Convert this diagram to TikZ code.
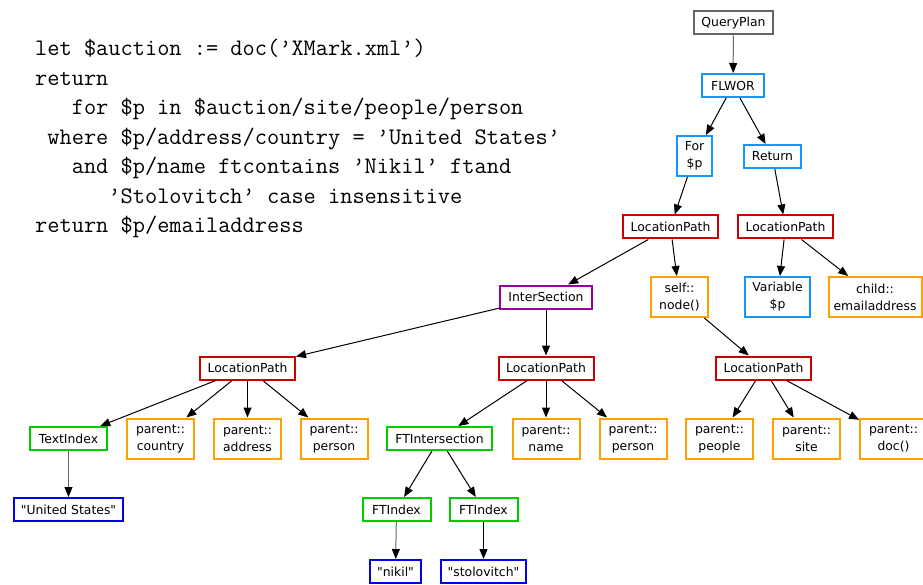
\documentclass[tikz,border=0pt]{standalone}
\usepackage{fontspec}
\newfontfamily\dvs{DejaVu Sans}
\usetikzlibrary{arrows.meta}
\definecolor{cgray}{RGB}{100,100,100}
\definecolor{csky}{RGB}{20,150,255}
\definecolor{cred}{RGB}{204,0,0}
\definecolor{cpurple}{RGB}{153,0,153}
\definecolor{corange}{RGB}{255,160,0}
\definecolor{cgreen}{RGB}{0,204,0}
\definecolor{cblue}{RGB}{0,0,238}
\begin{document}
\begin{tikzpicture}[x=1pt,y=-1pt,
  bx/.style={draw, line width=2pt, inner sep=0pt, align=center,
    font=\dvs\fontsize{12.4}{17}\selectfont, minimum height=23pt, fill=white},
  two/.style={minimum height=40pt},
  codeline/.style={anchor=base west, inner sep=0pt,
    font=\ttfamily\fontsize{23.7}{29.5}\selectfont},
  edge/.style={line width=1pt, -{Triangle[length=10pt,width=8pt,color=black]}},
  gedge/.style={edge, draw=black!60}
]
\useasboundingbox (0,0) rectangle (923,585);

% code
\node[codeline] (c1) at (35,56) {let \$auction := doc(’XMark.xml’)};
\node[codeline] (c2) at (35,85.5) {return};
\node[codeline] (c3) at (35,115) {\hphantom{xxx}for \$p in \$auction/site/people/person};
\node[codeline] (c4) at (35,144.5) {\hphantom{x}where \$p/address/country = ’United States’};
\node[codeline] (c5) at (35,174) {\hphantom{xxx}and \$p/name ftcontains ’Nikil’ ftand};
\node[codeline] (c6) at (35,203.5) {\hphantom{xxxxxx}’Stolovitch’ case insensitive};
\node[codeline] (c7) at (35,233) {return \$p/emailaddress};

% tree
\node[bx, draw=cgray, minimum width=79pt] (qp) at (733.5,23) {QueryPlan};
\node[bx, draw=csky, minimum width=62pt] (fl) at (733,85.5) {FLWOR};
\node[bx, two, draw=csky, minimum width=35pt] (for) at (694.5,156) {For\\\$p};
\node[bx, draw=csky, minimum width=57pt] (ret) at (772.5,156.5) {Return};
\node[bx, draw=cred, minimum width=95pt] (lpa) at (670.5,227) {LocationPath};
\node[bx, draw=cred, minimum width=95pt] (lpb) at (785.5,227) {LocationPath};
\node[bx, draw=cpurple, minimum width=92pt] (is) at (546,297) {InterSection};
\node[bx, two, draw=corange, minimum width=57pt] (self) at (679.5,297) {self::\\node()};
\node[bx, two, draw=csky, minimum width=65pt] (var) at (777.5,297) {Variable\\\$p};
\node[bx, two, draw=corange, minimum width=93pt] (child) at (875,297) {child::\\emailaddress};
\node[bx, draw=cred, minimum width=95pt] (lpc) at (247.5,368) {LocationPath};
\node[bx, draw=cred, minimum width=95pt] (lpd) at (546,368) {LocationPath};
\node[bx, draw=cred, minimum width=95pt] (lpe) at (763.5,368) {LocationPath};
\node[bx, draw=cgreen, minimum width=77pt] (ti) at (68.5,438.5) {TextIndex};
\node[bx, two, draw=corange, minimum width=67pt] (pco) at (160.5,438.5) {parent::\\country};
\node[bx, two, draw=corange, minimum width=67pt] (pad) at (247.5,438.5) {parent::\\address};
\node[bx, two, draw=corange, minimum width=67pt] (ppe) at (334,438.5) {parent::\\person};
\node[bx, draw=cgreen, minimum width=105pt] (fti) at (439.5,438.5) {FTIntersection};
\node[bx, two, draw=corange, minimum width=67pt] (pna) at (546,438.5) {parent::\\name};
\node[bx, two, draw=corange, minimum width=67pt] (ppf) at (633,438.5) {parent::\\person};
\node[bx, two, draw=corange, minimum width=67pt] (ppl) at (719.5,438.5) {parent::\\people};
\node[bx, two, draw=corange, minimum width=67pt] (psi) at (806.5,438.5) {parent::\\site};
\node[bx, two, draw=corange, minimum width=67pt] (pdo) at (893.5,438.5) {parent::\\doc()};
\node[bx, draw=cblue, minimum width=109pt] (us) at (68.5,509.5) {"United States"};
\node[bx, draw=cgreen, minimum width=68pt] (fa) at (396.5,509.5) {FTIndex};
\node[bx, draw=cgreen, minimum width=68pt] (fb) at (483.5,509.5) {FTIndex};
\node[bx, draw=cblue, minimum width=51pt] (ni) at (395.5,571.5) {"nikil"};
\node[bx, draw=cblue, minimum width=85pt] (st) at (483.5,571.5) {"stolovitch"};

% edges
\draw[gedge] (qp) -- (fl);
\draw[edge] (fl) -- (for);
\draw[edge] (fl) -- (ret);
\draw[edge] (for) -- (lpa);
\draw[edge] (ret) -- (lpb);
\draw[edge] (lpa) -- (is);
\draw[edge] (lpa) -- (self);
\draw[edge] (lpb) -- (var);
\draw[edge] (lpb) -- (child);
\draw[edge] (is) -- (lpc);
\draw[edge] (is) -- (lpd);
\draw[edge] (self) -- (lpe);
\draw[edge] (lpc) -- (ti);
\draw[edge] (lpc) -- (pco);
\draw[edge] (lpc) -- (pad);
\draw[edge] (lpc) -- (ppe);
\draw[gedge] (ti) -- (us);
\draw[edge] (lpd) -- (fti);
\draw[edge] (lpd) -- (pna);
\draw[edge] (lpd) -- (ppf);
\draw[edge] (fti) -- (fa);
\draw[edge] (fti) -- (fb);
\draw[gedge] (fa) -- (ni);
\draw[edge] (fb) -- (st);
\draw[edge] (lpe) -- (ppl);
\draw[edge] (lpe) -- (psi);
\draw[edge] (lpe) -- (pdo);
\end{tikzpicture}
\end{document}
